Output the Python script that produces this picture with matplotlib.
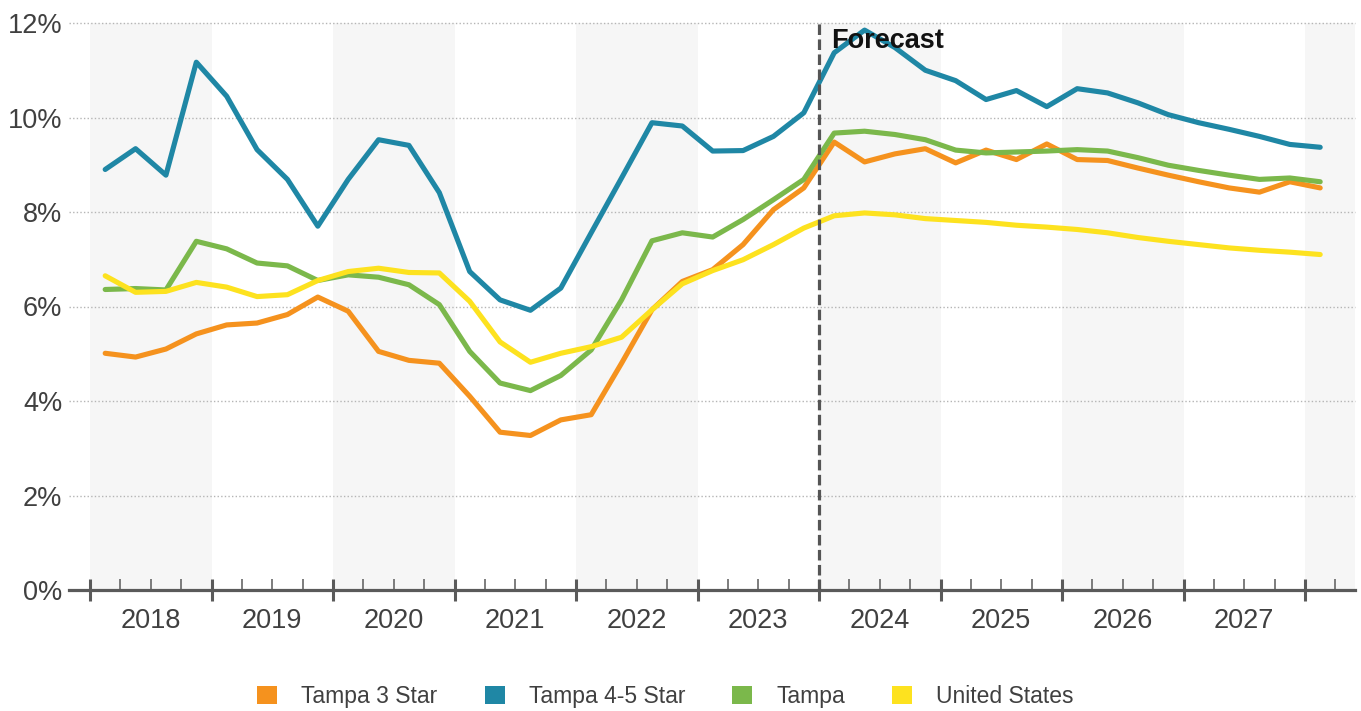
import matplotlib
matplotlib.use("Agg")
import matplotlib.pyplot as plt
from matplotlib.patches import Patch
from matplotlib.ticker import FixedLocator, FixedFormatter, FuncFormatter

plt.rcParams['font.family'] = ['Liberation Sans', 'DejaVu Sans']

# Quarterly vacancy rates, 2018 Q1 through 2028 Q1
start_year = 2018
years = list(range(2018, 2028))
tampa_3_star = [5.01, 4.93, 5.10, 5.42, 5.61, 5.65, 5.83, 6.20, 5.90, 5.05, 4.86, 4.80,
                4.10, 3.34, 3.27, 3.60, 3.71, 4.80, 5.93, 6.53, 6.78, 7.31, 8.05, 8.51,
                9.48, 9.06, 9.23, 9.34, 9.04, 9.31, 9.11, 9.44, 9.11, 9.09, 8.93, 8.78,
                8.64, 8.51, 8.42, 8.64, 8.51]
tampa_45_star = [8.90, 9.34, 8.78, 11.17, 10.45, 9.32, 8.69, 7.70, 8.69, 9.53, 9.41, 8.41,
                 6.74, 6.14, 5.92, 6.39, 7.56, 8.72, 9.89, 9.82, 9.29, 9.30, 9.60, 10.10,
                 11.37, 11.85, 11.48, 11.00, 10.78, 10.38, 10.57, 10.23, 10.61, 10.52, 10.31, 10.06,
                 9.89, 9.75, 9.60, 9.43, 9.37]
tampa = [6.36, 6.38, 6.35, 7.38, 7.22, 6.92, 6.86, 6.55, 6.67, 6.62, 6.46, 6.04,
         5.05, 4.38, 4.22, 4.54, 5.08, 6.14, 7.39, 7.56, 7.47, 7.84, 8.26, 8.69,
         9.67, 9.71, 9.64, 9.53, 9.31, 9.25, 9.27, 9.29, 9.32, 9.29, 9.15, 8.99,
         8.88, 8.78, 8.69, 8.72, 8.64]
united_states = [6.65, 6.30, 6.32, 6.51, 6.41, 6.21, 6.25, 6.55, 6.74, 6.81, 6.72, 6.71,
                 6.11, 5.25, 4.82, 5.01, 5.15, 5.35, 5.93, 6.48, 6.76, 6.99, 7.31, 7.66,
                 7.92, 7.98, 7.94, 7.86, 7.82, 7.78, 7.72, 7.68, 7.63, 7.56, 7.46, 7.38,
                 7.31, 7.24, 7.19, 7.15, 7.10]
forecast_start = 2024
y_ticks = [0, 2, 4, 6, 8, 10, 12]

series = [
    ("Tampa 3 Star", tampa_3_star, "#f5921e"),
    ("Tampa 4-5 Star", tampa_45_star, "#1f87a5"),
    ("Tampa", tampa, "#7bb84b"),
    ("United States", united_states, "#fde21f"),
]

# quarter midpoints expressed in fractional years
x = [start_year + (i + 0.5) / 4 for i in range(len(tampa))]

fig = plt.figure(figsize=(13.61, 7.11), dpi=100)
ax = fig.add_axes([68.5 / 1361, (711 - 590) / 711, (1355 - 68.5) / 1361, (590 - 23) / 711])

x_left = 2018 - 21.5 / 121.5
x_right = 2028 + 50 / 121.5
ax.set_xlim(x_left, x_right)
ax.set_ylim(0, 12)

# alternating year shading
for yr in range(2018, 2029, 2):
    ax.axvspan(yr, yr + 1, color="#f6f6f6", zorder=0, lw=0)

# dotted horizontal grid
for v in y_ticks[1:]:
    ax.axhline(v, color="#b5b5b5", lw=1.0, ls=(0, (1, 1.6)), zorder=1, clip_on=False)

for name, vals, col in series:
    ax.plot(x, vals, color=col, lw=3.7, solid_capstyle="round",
            solid_joinstyle="round", zorder=3, label=name)

ax.axvline(forecast_start, color="#555555", lw=2.3, ls=(0, (3.3, 1.4)), zorder=5)
ax.text(forecast_start + 0.1, 11.48, "Forecast", fontsize=19.5, fontweight="bold",
        color="#111111", va="baseline", ha="left", zorder=6)

for s in ["top", "right", "left"]:
    ax.spines[s].set_visible(False)
ax.spines["bottom"].set_color("#5a5a5a")
ax.spines["bottom"].set_linewidth(2.3)
ax.spines["bottom"].set_zorder(4)

ax.set_yticks(y_ticks)
ax.yaxis.set_major_formatter(FuncFormatter(lambda v, p: f"{int(v)}%"))
ax.tick_params(axis="y", length=0, pad=4.5, labelsize=19.5, labelcolor="#404040")

year_edges = list(range(2018, 2029))
quarter_ticks = [yr + q / 4 for yr in range(2018, 2029) for q in (1, 2, 3)
                 if yr + q / 4 < x_right]
quarter_labels = [str(int(t)) if (t % 1) == 0.5 and int(t) in years else ""
                  for t in quarter_ticks]
ax.xaxis.set_major_locator(FixedLocator(year_edges))
ax.xaxis.set_major_formatter(FixedFormatter([""] * len(year_edges)))
ax.xaxis.set_minor_locator(FixedLocator(quarter_ticks))
ax.xaxis.set_minor_formatter(FixedFormatter(quarter_labels))
ax.tick_params(axis="x", which="major", direction="inout", length=16.5, width=2.2,
               color="#5a5a5a")
ax.tick_params(axis="x", which="minor", direction="in", length=8, width=1.1,
               color="#5a5a5a", pad=13, labelsize=19.5, labelcolor="#404040")

handles = [Patch(facecolor=c, edgecolor="none", label=n) for n, _, c in series]
fig.legend(handles=handles, loc="center", bbox_to_anchor=(665.5 / 1361, 1 - 696.5 / 711),
           ncol=4, frameon=False, fontsize=16.5, handlelength=0.88, handleheight=0.88,
           handletextpad=1.05, columnspacing=2.05, labelcolor="#404040",
           borderaxespad=0, borderpad=0)

fig.savefig("out.png", dpi=100)
